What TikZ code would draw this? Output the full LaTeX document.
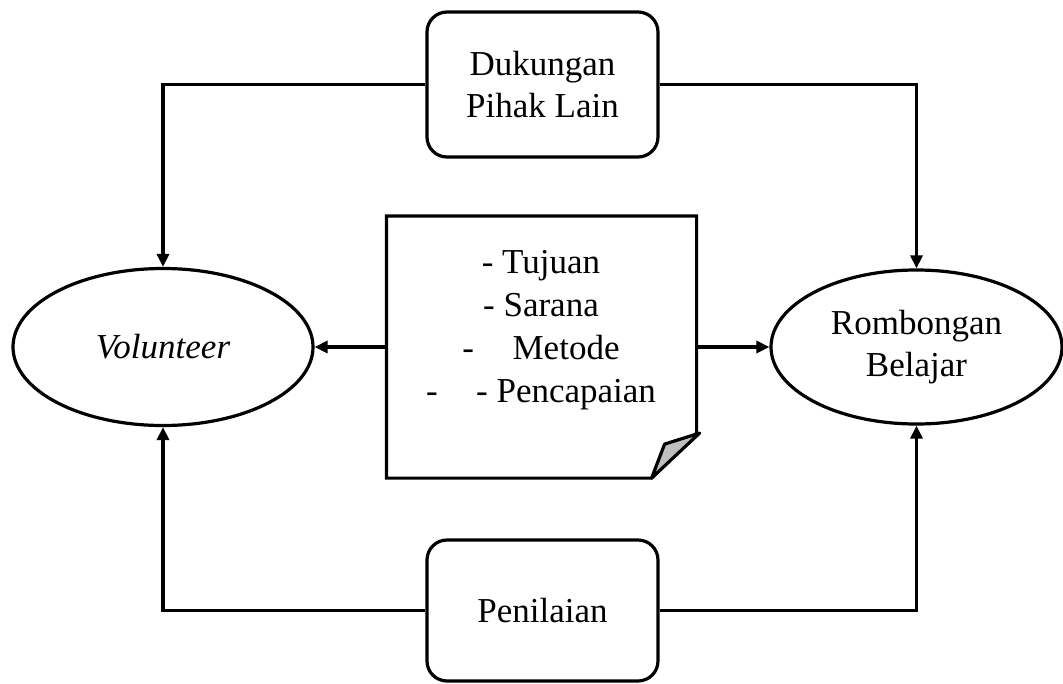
\documentclass[tikz,border=0pt]{standalone}
\usepackage{fontspec}
\setmainfont{Liberation Serif}
\usetikzlibrary{arrows.meta,shapes.geometric}
\begin{document}
\begin{tikzpicture}[x=1pt,y=-1pt,
  line width=3.2pt,
  txt/.style={font=\fontsize{35}{42}\selectfont, align=center, inner sep=0pt},
  rbox/.style={txt, draw, rounded corners=20pt, minimum width=231pt},
  oval/.style={txt, draw, ellipse, inner sep=0pt},
  arr/.style={-{Triangle[length=13pt,width=12pt]}}
]
\useasboundingbox (0,0) rectangle (1063,683);

% side boxes
\node[rbox, minimum height=145pt] (dpl) at (542.5,84.5) {Dukungan\\Pihak Lain};
\node[rbox, minimum height=141pt] (pen) at (542.5,610.5) {Penilaian};

% ovals
\node[oval, minimum width=300pt, minimum height=157pt] (vol) at (163,347) {\itshape Volunteer};
\node[oval, minimum width=291pt, minimum height=154pt] (rb) at (916.5,347) {Rombongan\\Belajar};

% note with folded corner
\node[minimum width=307pt, minimum height=259pt, inner sep=0pt] (note) at (541.5,347) {};
\draw[line join=miter] (note.north west) -- (note.north east) -- ([yshift=45pt]note.south east)
  -- ([xshift=-45pt]note.south east) -- (note.south west) -- cycle;
\draw[fill=black!25, line join=round] ([xshift=-45pt]note.south east) -- ([xshift=-32pt,yshift=34pt]note.south east)
  -- ([xshift=3pt,yshift=45pt]note.south east) -- cycle;
\node[txt, font=\fontsize{35}{43}\selectfont] (items) at (541,330) {- Tujuan\\- Sarana\\-\hspace*{1.1em}Metode\\-\hspace*{1.1em}- Pencapaian};

% connectors
\draw[arr] (dpl.west) -| (vol.north);
\draw[arr] (dpl.east) -| (rb.north);
\draw[arr] (pen.west) -| (vol.south);
\draw[arr] (pen.east) -| (rb.south);
\draw[arr] (note.west) -- (vol.east);
\draw[arr] (note.east) -- (rb.west);
\end{tikzpicture}
\end{document}
